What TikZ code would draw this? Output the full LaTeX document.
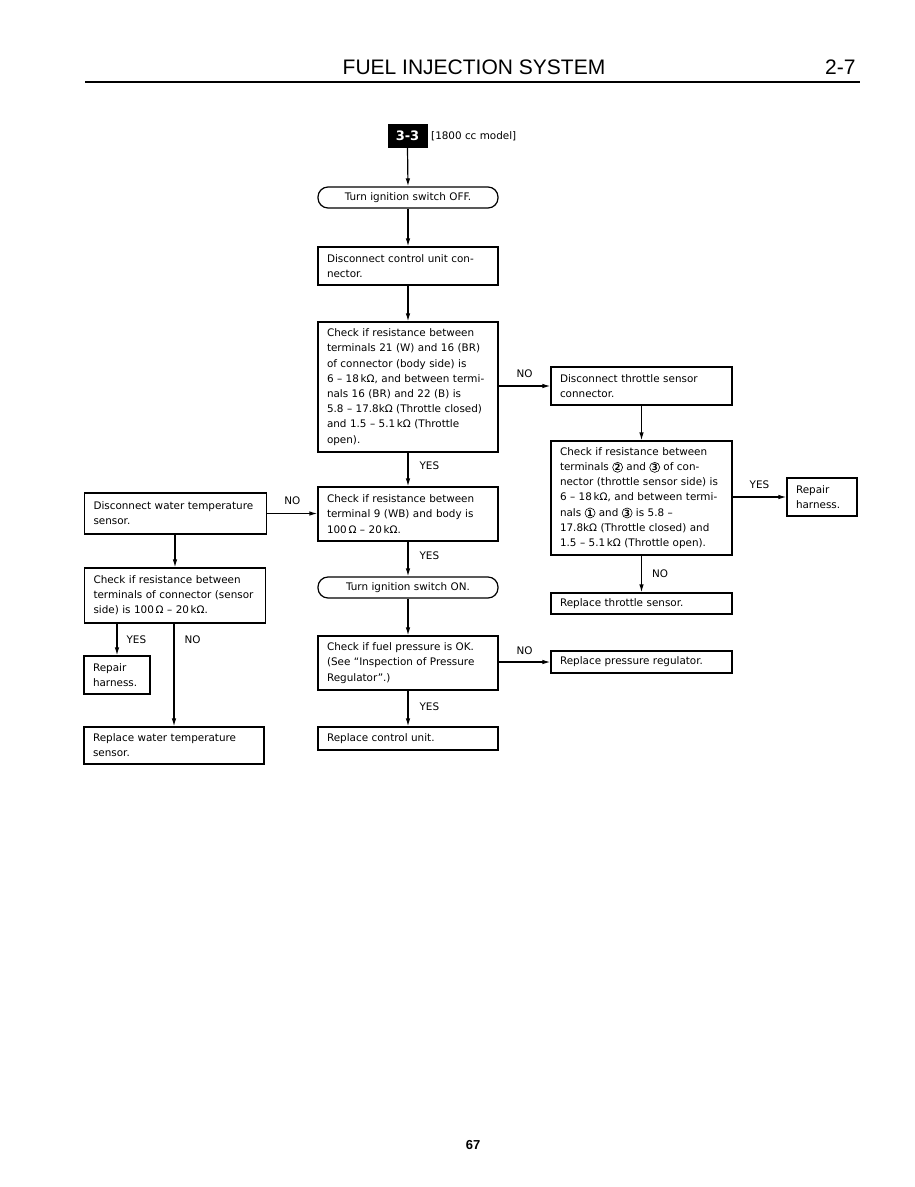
\documentclass[tikz,border=0pt]{standalone}
\usepackage{fontspec}
\setmainfont{DejaVu Sans}
\newfontfamily\hfont{Liberation Sans}
\usetikzlibrary{arrows.meta,calc}
\newcommand\cnum[1]{\tikz[baseline=(cn.base)]\node[draw,circle,line width=0.6pt,inner sep=0.4pt,minimum size=10pt] (cn) {\fontsize{8.5}{9}\selectfont\bfseries #1};}
\begin{document}
\begin{tikzpicture}[x=1pt,y=-1pt,
  box/.style={draw, line width=1.2pt, align=left, inner xsep=9pt, inner ysep=0pt,
    text width=162pt, font=\fontsize{10.4}{15.2}\selectfont},
  rbox/.style={box, rounded corners=10pt, align=center},
  arr/.style={line width=1.2pt, -{Latex[length=8pt,width=4.5pt]}},
  lbl/.style={font=\fontsize{10.4}{12}\selectfont, inner sep=0pt}]
\useasboundingbox (0,0) rectangle (914,1187);
% header
\node[font=\hfont\fontsize{21}{24}\selectfont, anchor=base] (title) at (474,74) {FUEL INJECTION SYSTEM};
\node[font=\hfont\fontsize{21}{24}\selectfont, anchor=base east] (pg) at (859,74) {2-7};
\draw[line width=2.8pt] (85,82) -- (860,82);
% tag
\node[fill=black, text=white, minimum width=40pt, minimum height=24pt, inner sep=0pt,
  font=\fontsize{13}{14}\selectfont\bfseries] (tag) at (407.5,136) {3-3};
\node[lbl, anchor=west] (model) at (431,136) {[1800 cc model]};
% main column
\node[rbox, minimum height=21pt] (off) at (408,197.5) {Turn ignition switch OFF.};
\node[box, minimum height=38pt] (disc1) at (408,266) {Disconnect control unit con-\\nector.};
\node[box, minimum height=130pt] (chk1) at (408,387) {Check if resistance between\\terminals 21 (W) and 16 (BR)\\of connector (body side) is\\6 – 18\,kΩ, and between termi-\\nals 16 (BR) and 22 (B) is\\5.8 – 17.8kΩ (Throttle closed)\\and 1.5 – 5.1\,kΩ (Throttle\\open).};
\node[box, minimum height=54pt] (chk9) at (408,514) {Check if resistance between\\terminal 9 (WB) and body is\\100\,Ω – 20\,kΩ.};
\node[rbox, minimum height=21pt] (on) at (408,587.5) {Turn ignition switch ON.};
\node[box, minimum height=54pt] (fuel) at (408,663) {Check if fuel pressure is OK.\\(See “Inspection of Pressure\\Regulator”.)};
\node[box, minimum height=23pt] (rcu) at (408,738.5) {Replace control unit.};
% right column
\node[box, text width=163pt, minimum height=38pt] (disc2) at (641.5,386) {Disconnect throttle sensor\\connector.};
\node[box, text width=163pt, minimum height=114pt] (chk2) at (641.5,498) {Check if resistance between\\terminals \cnum{2} and \cnum{3} of con-\\nector (throttle sensor side) is\\6 – 18\,kΩ, and between termi-\\nals \cnum{1} and \cnum{3} is 5.8 –\\17.8kΩ (Throttle closed) and\\1.5 – 5.1\,kΩ (Throttle open).};
\node[box, text width=52pt, minimum height=38pt] (rep2) at (822,497) {Repair\\harness.};
\node[box, text width=163pt, minimum height=21pt] (rthr) at (641.5,603.5) {Replace throttle sensor.};
\node[box, text width=163pt, minimum height=22pt] (reg) at (641.5,662) {Replace pressure regulator.};
% left column
\node[box, text width=164pt, minimum height=41pt] (wdisc) at (175.5,513.5) {Disconnect water temperature\\sensor.};
\node[box, text width=163pt, minimum height=55pt] (wchk) at (175,595.5) {Check if resistance between\\terminals of connector (sensor\\side) is 100\,Ω – 20\,kΩ.};
\node[box, text width=48pt, minimum height=38pt] (rep1) at (117,675) {Repair\\harness.};
\node[box, minimum height=37pt] (rwat) at (174,745.5) {Replace water temperature\\sensor.};
% connectors
\draw[arr] (tag.south) -- (off.north);
\draw[arr] (off.south) -- (disc1.north);
\draw[arr] (disc1.south) -- (chk1.north);
\draw[arr] (chk1.east |- disc2.west) -- node[lbl, above=8pt] {NO} (disc2.west);
\draw[arr] (disc2.south) -- (chk2.north);
\draw[arr] (chk2.east |- rep2.west) -- node[lbl, above=8pt] {YES} (rep2.west);
\draw[arr] (chk2.south) -- node[lbl, right=10pt] {NO} (rthr.north);
\draw[arr] (chk1.south) -- node[lbl, right=11pt, pos=0.4] {YES} (chk9.north);
\draw[arr] (wdisc.east) -- node[lbl, above=8pt] {NO} (wdisc.east -| chk9.west);
\draw[arr] (chk9.south) -- node[lbl, right=11pt, pos=0.4] {YES} (on.north);
\draw[arr] (on.south) -- (fuel.north);
\draw[arr] (fuel.east |- reg.west) -- node[lbl, above=7pt] {NO} (reg.west);
\draw[arr] (fuel.south) -- node[lbl, right=11pt, pos=0.45] {YES} (rcu.north);
\draw[arr] (wdisc.south -| wchk.north) -- (wchk.north);
\draw[arr] (wchk.south -| rep1.north) -- node[lbl, right=9pt, pos=0.5] {YES} (rep1.north);
\draw[arr] (wchk.south -| rwat.north) -- node[lbl, right=10pt, pos=0.16] {NO} (rwat.north);
% page number
\node[font=\hfont\bfseries\fontsize{13}{14}\selectfont] (pnum) at (473,1145) {67};
\end{tikzpicture}
\end{document}
